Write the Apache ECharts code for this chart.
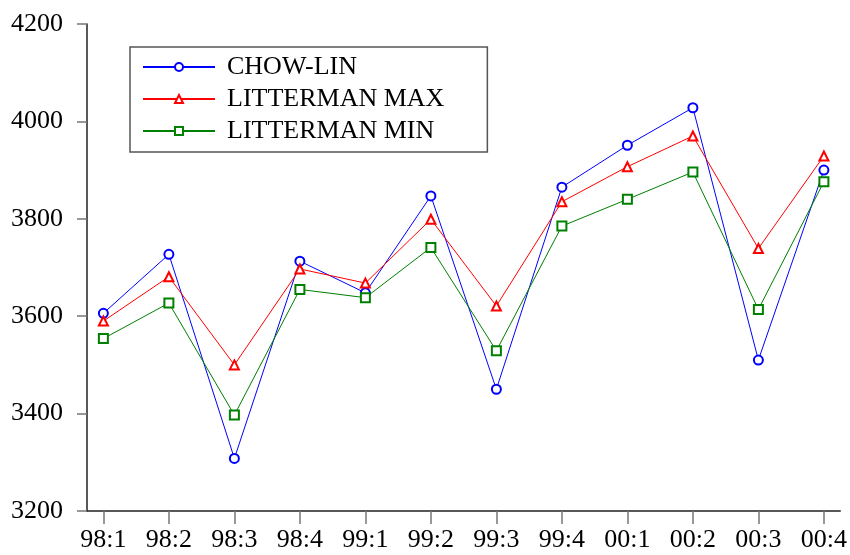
<!DOCTYPE html>
<html>
<head>
<meta charset="utf-8">
<script src="https://cdn.jsdelivr.net/npm/echarts@6/dist/echarts.min.js"></script>
<style>
  html, body { margin: 0; padding: 0; background: #fff; }
  #chart { width: 850px; height: 555px; }
</style>
</head>
<body>
<div id="chart"></div>
<script>
// Quarterly estimates, 1998:1 – 2000:4
const quarters = ['98:1', '98:2', '98:3', '98:4', '99:1', '99:2', '99:3', '99:4', '00:1', '00:2', '00:3', '00:4'];
const chowLin = [3606, 3727, 3308, 3713, 3648, 3847, 3450, 3865, 3951, 4028, 3510, 3900];
const littermanMax = [3590, 3681, 3500, 3697, 3668, 3799, 3621, 3835, 3907, 3970, 3739, 3929];
const littermanMin = [3554, 3627, 3397, 3655, 3638, 3741, 3529, 3785, 3840, 3896, 3614, 3876];
const yTicks = [3200, 3400, 3600, 3800, 4000, 4200];

const FONT = 'Liberation Serif';
const positions = quarters.map((_, i) => i);
const toPoints = arr => arr.map((v, i) => [i, v]);

const chart = echarts.init(document.getElementById('chart'), null, { renderer: 'canvas' });

function lineSeries(name, values, color, symbol) {
  return {
    name: name,
    type: 'line',
    data: toPoints(values),
    symbol: symbol,
    symbolSize: 9,
    showAllSymbol: true,
    lineStyle: { color: color, width: 1 },
    itemStyle: { color: color, borderColor: color, borderWidth: 1 },
    emphasis: { disabled: true },
    animation: false
  };
}

chart.setOption({
  backgroundColor: '#ffffff',
  animation: false,
  grid: { left: 87, right: 5, top: 24, bottom: 44, containLabel: false },
  legend: {
    orient: 'vertical',
    left: 130,
    top: 47,
    padding: [7, 43, 8, 12],
    itemGap: 6,
    itemWidth: 72,
    itemHeight: 10,
    borderColor: '#555',
    borderWidth: 1.5,
    selectedMode: false,
    textStyle: { fontFamily: FONT, fontSize: 26, color: '#000', lineHeight: 26, padding: [0, 0, 0, 7] },
    data: ['CHOW-LIN', 'LITTERMAN MAX', 'LITTERMAN MIN']
  },
  xAxis: {
    type: 'value',
    min: -0.25,
    max: 11.25,
    splitLine: { show: false },
    axisLine: { show: true, onZero: false, lineStyle: { color: '#222', width: 1.5 } },
    axisTick: { show: true, length: 13, customValues: positions, lineStyle: { color: '#777', width: 1.5 } },
    axisLabel: {
      customValues: positions,
      formatter: v => quarters[Math.round(v)],
      fontFamily: FONT, fontSize: 26, color: '#000', margin: 16
    }
  },
  yAxis: {
    type: 'value',
    min: 3200,
    max: 4200,
    interval: 200,
    splitLine: { show: false },
    axisLine: { show: true, onZero: false, lineStyle: { color: '#222', width: 1.5 } },
    axisTick: { show: true, length: 10, lineStyle: { color: '#777', width: 1.5 } },
    axisLabel: {
      customValues: yTicks,
      formatter: v => String(v),
      fontFamily: FONT, fontSize: 26, color: '#000', margin: 24
    }
  },
  series: [
    lineSeries('CHOW-LIN', chowLin, '#0000ff', 'emptyCircle'),
    lineSeries('LITTERMAN MAX', littermanMax, '#ff0000', 'emptyTriangle'),
    lineSeries('LITTERMAN MIN', littermanMin, '#008000', 'emptyRect')
  ]
});
</script>
</body>
</html>
